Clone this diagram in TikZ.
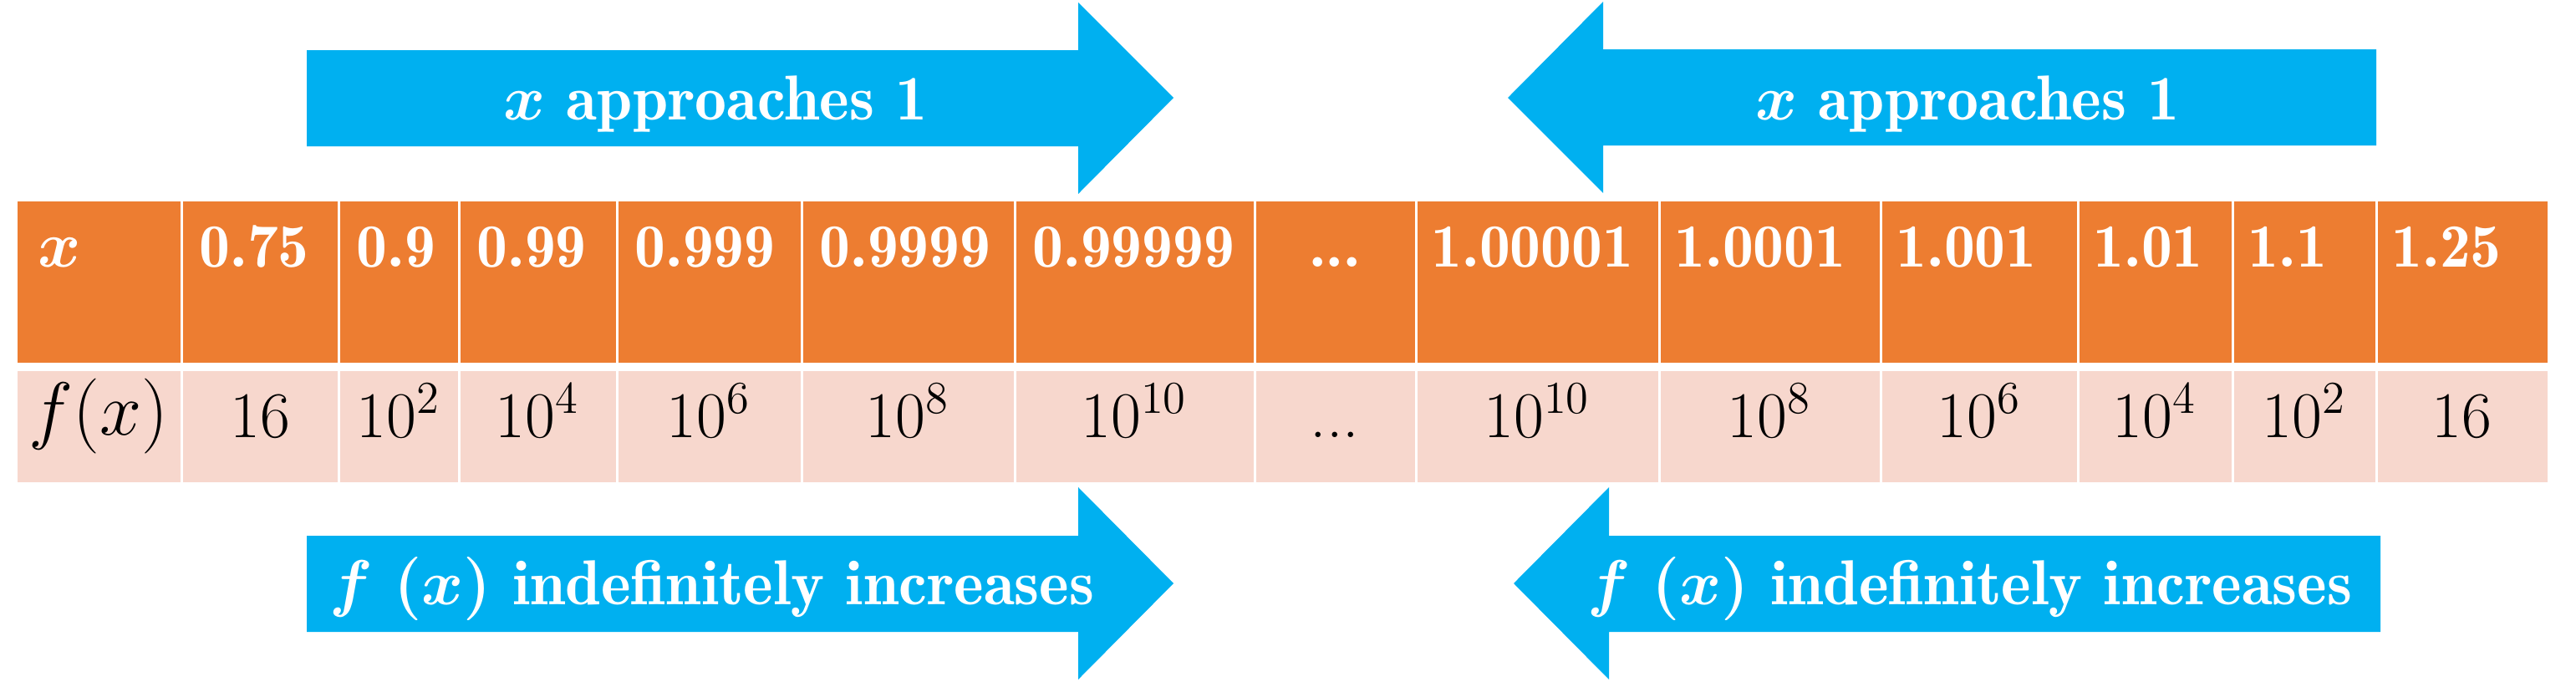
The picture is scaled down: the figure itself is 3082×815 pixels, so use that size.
\RequirePackage{fix-cm}
\documentclass[tikz,border=0pt]{standalone}
\usepackage{fontspec}
\newfontfamily\demi{lmromandemi10-regular.otf}
\definecolor{xorange}{HTML}{ED7D31}
\definecolor{xpink}{HTML}{F7D7CD}
\definecolor{xblue}{HTML}{00B0F0}
\tikzset{
  atext/.style={inner sep=0pt,text=white,font=\fontsize{19}{22}\demi\boldmath\selectfont,anchor=base},
  hdtext/.style={inner sep=0pt,text=white,font=\fontsize{18.4}{22}\demi\boldmath\selectfont,anchor=base west},
  rowtext/.style={inner sep=0pt,text=black,font=\fontsize{19.5}{22}\selectfont,anchor=base},
  sep/.style={white,line width=0.75pt},
}
\begin{document}
\begin{tikzpicture}[x=0.25pt,y=-0.25pt]
\useasboundingbox (0,0) rectangle (3082,815);
% arrows
\fill[xblue] (367,60) -- (1290,60) -- (1290,3) -- (1404,117) -- (1290,232) -- (1290,175) -- (367,175) -- cycle;
\fill[xblue] (2843,59) -- (1918,59) -- (1918,2) -- (1804,117) -- (1918,231) -- (1918,174) -- (2843,174) -- cycle;
\fill[xblue] (367,641) -- (1290,641) -- (1290,583) -- (1404,698) -- (1290,813) -- (1290,756) -- (367,756) -- cycle;
\fill[xblue] (2848,641) -- (1925,641) -- (1925,583) -- (1811,698) -- (1925,813) -- (1925,756) -- (2848,756) -- cycle;
\node[atext] (ta1) at (856,143) {$x$ approaches 1};
\node[atext] (ta2) at (2354,143) {$x$ approaches 1};
\node[atext] (ba1) at (852,723) {$f$ $(x)$ indefinitely increases};
\node[atext] (ba2) at (2357,723) {$f$ $(x)$ indefinitely increases};
% table
\fill[xorange] (21,241) rectangle (3048,434);
\fill[xpink] (21,444) rectangle (3048,577);
\foreach \b in {217,405,549,738,959,1214,1501,1694,1985,2250,2486,2671,2843}
  \draw[sep] (\b,238) -- (\b,580);
% header row
\node[hdtext,font=\fontsize{19.5}{22}\demi\boldmath\selectfont] (hx) at (45,319) {$x$};
\node[hdtext] (h1) at (238,319) {0.75};
\node[hdtext] (h2) at (426,319) {0.9};
\node[hdtext] (h3) at (570,319) {0.99};
\node[hdtext] (h4) at (759,319) {0.999};
\node[hdtext] (h5) at (980,319) {0.9999};
\node[hdtext] (h6) at (1235,319) {0.99999};
\node[hdtext,anchor=base] (h7) at (1597,319) {...};
\node[hdtext] (h8) at (1712,319) {1.00001};
\node[hdtext] (h9) at (2003,319) {1.0001};
\node[hdtext] (h10) at (2268,319) {1.001};
\node[hdtext] (h11) at (2504,319) {1.01};
\node[hdtext] (h12) at (2689,319) {1.1};
\node[hdtext] (h13) at (2861,319) {1.25};
% value row
\node[rowtext,font=\fontsize{22.5}{26}\selectfont] (vf) at (118,520) {$f(x)$};
\node[rowtext] (v1) at (311,523) {16};
\node[rowtext] (v2) at (477,523) {$10^2$};
\node[rowtext] (v3) at (643,523) {$10^4$};
\node[rowtext] (v4) at (848,523) {$10^6$};
\node[rowtext] (v5) at (1086,523) {$10^8$};
\node[rowtext] (v6) at (1357,523) {$10^{10}$};
\node[rowtext] (v7) at (1597,523) {...};
\node[rowtext] (v8) at (1839,523) {$10^{10}$};
\node[rowtext] (v9) at (2117,523) {$10^8$};
\node[rowtext] (v10) at (2368,523) {$10^6$};
\node[rowtext] (v11) at (2578,523) {$10^4$};
\node[rowtext] (v12) at (2757,523) {$10^2$};
\node[rowtext] (v13) at (2945,523) {16};
\end{tikzpicture}
\end{document}
